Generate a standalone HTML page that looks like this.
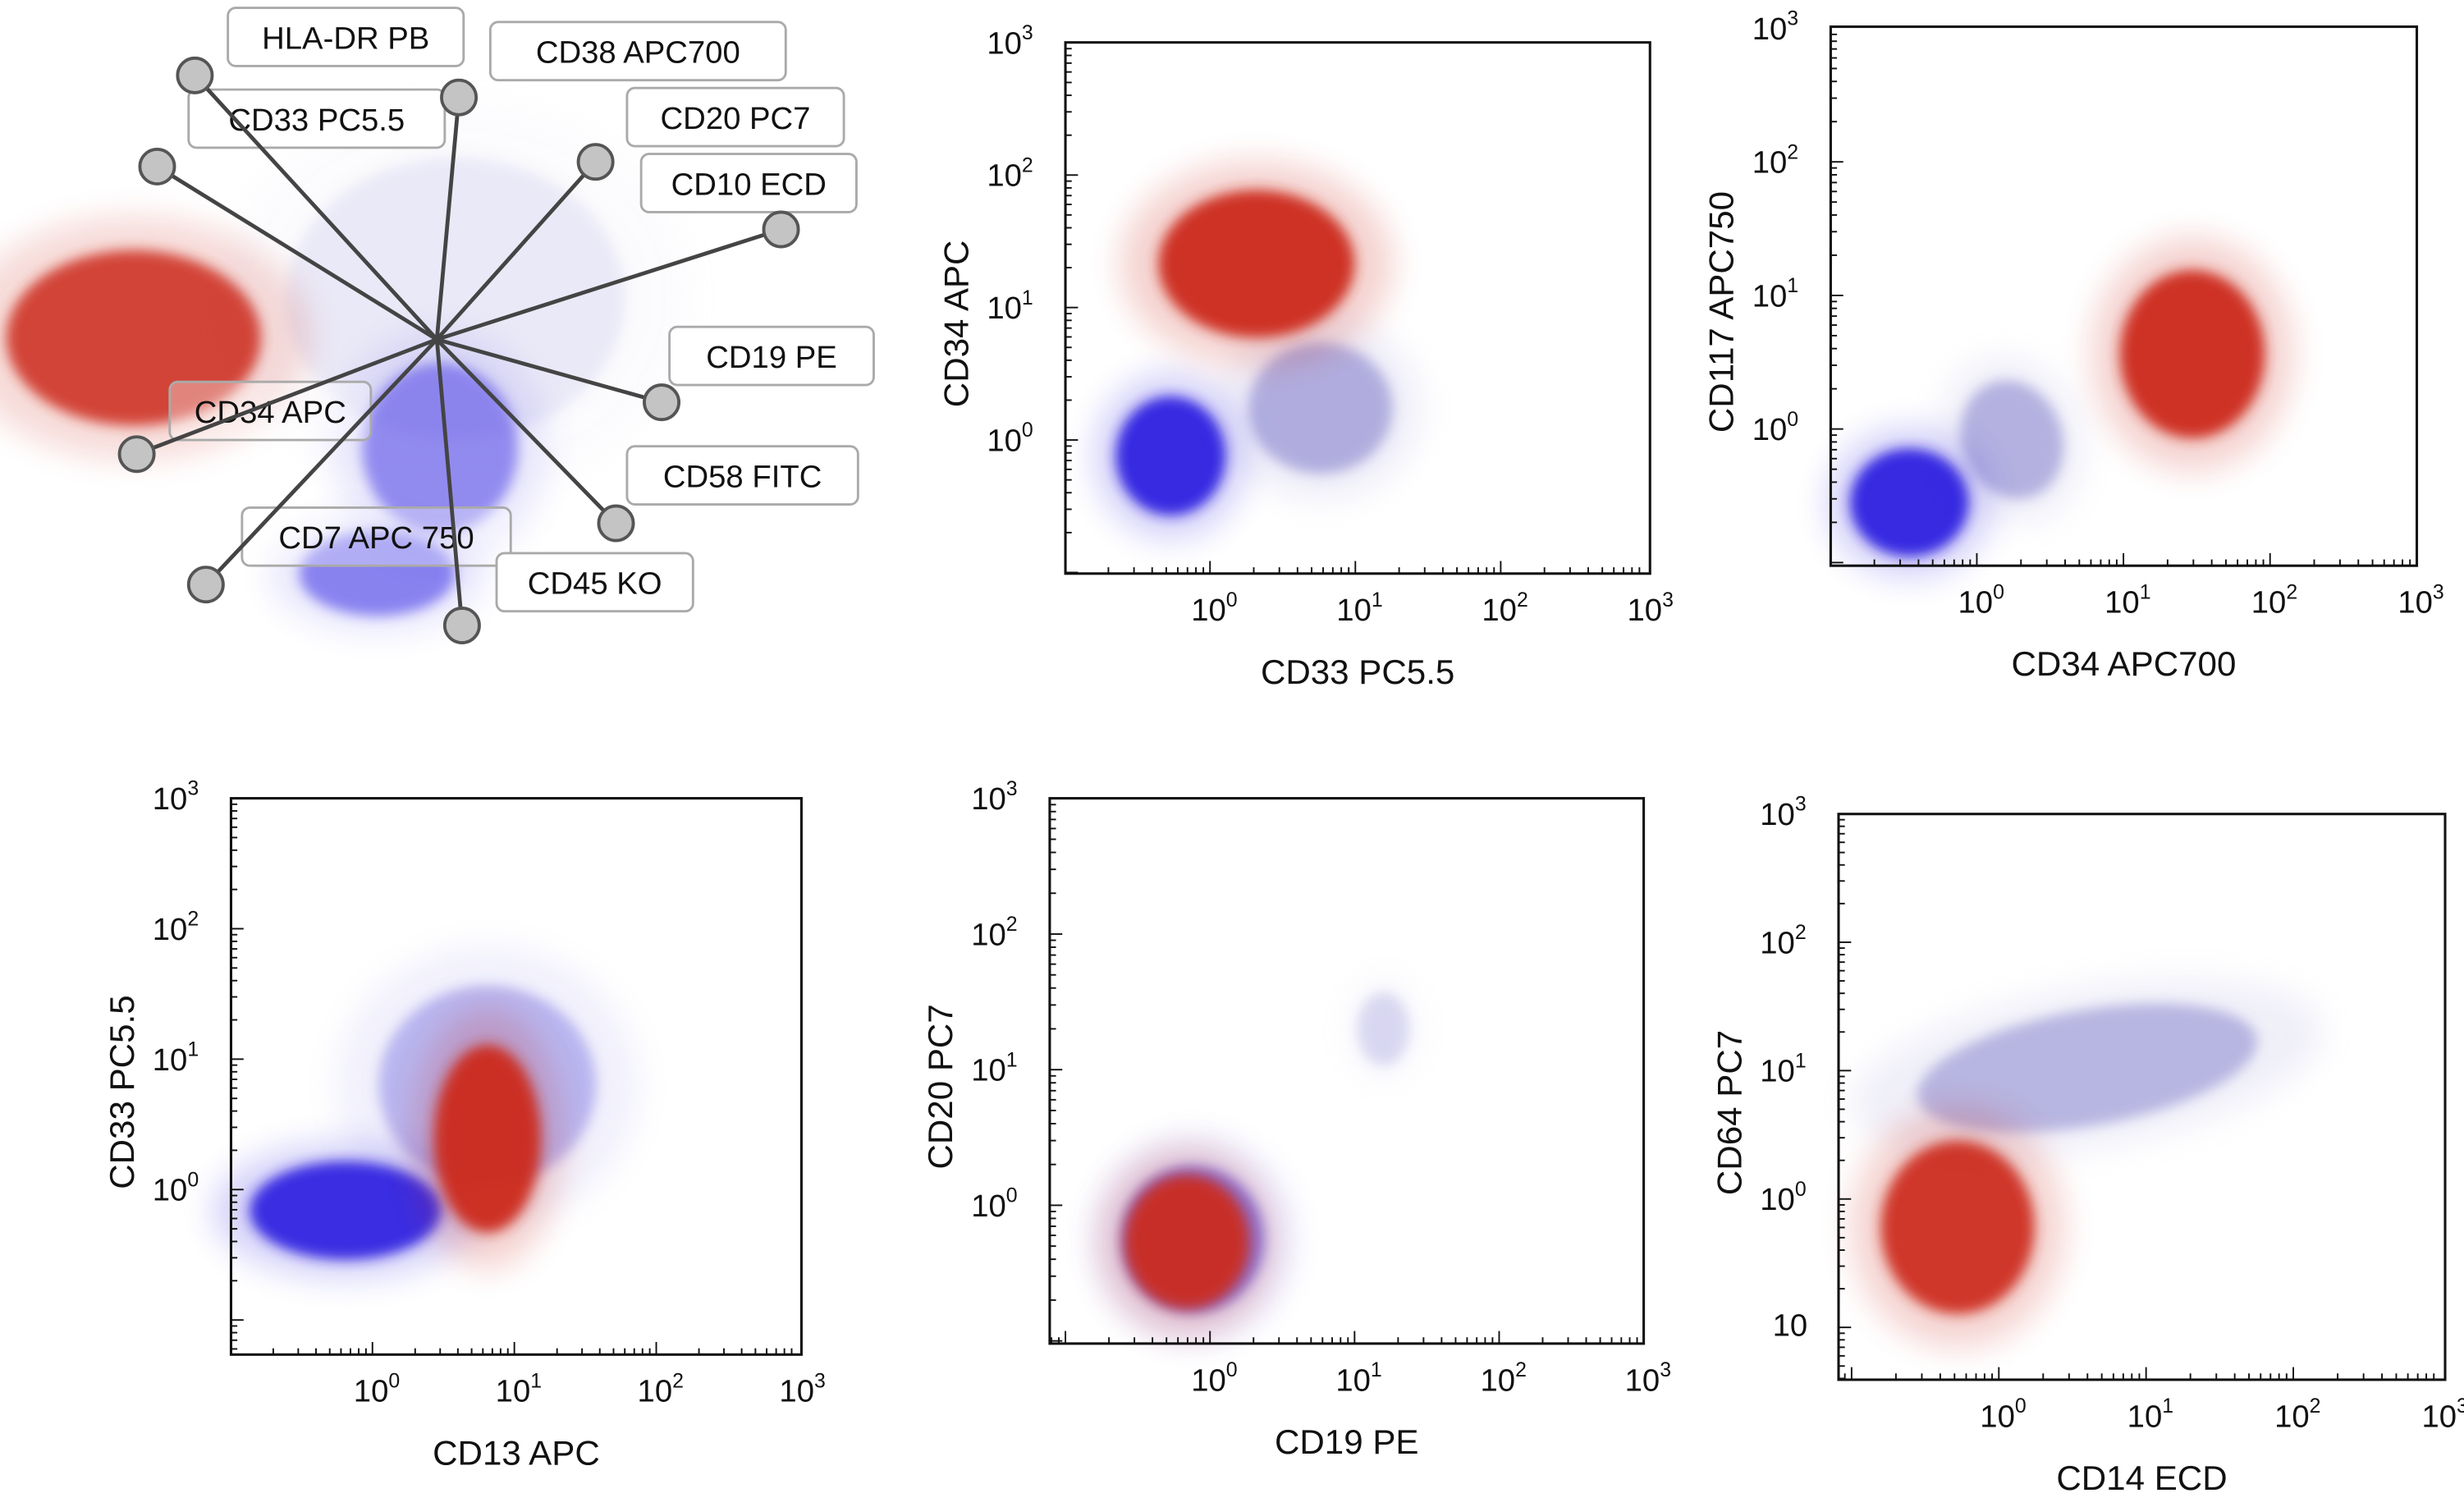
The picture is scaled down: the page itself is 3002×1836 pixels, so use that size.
<!DOCTYPE html>
<html><head><meta charset="utf-8"><style>
html,body{margin:0;padding:0;background:#fff}
svg{display:block}
text{font-family:"Liberation Sans",sans-serif;fill:#111}
</style></head><body>
<svg id="s" width="3002" height="1836" viewBox="0 0 1568 959">
<defs>
<filter id="b1" x="-50%" y="-50%" width="200%" height="200%"><feGaussianBlur stdDeviation="4"/></filter>
<filter id="b2" x="-50%" y="-50%" width="200%" height="200%"><feGaussianBlur stdDeviation="10"/></filter>
</defs>
<g id="radar"></g>
<g id="plots"></g>
</svg>
<script>
// ---- plot data ----
const plotNames=["cd34-vs-cd33","cd117-vs-cd34","cd33-vs-cd13","cd20-vs-cd19","cd64-vs-cd14"];
const xTitles=["CD33 PC5.5","CD34 APC700","CD13 APC","CD19 PE","CD14 ECD"];
const yTitles=["CD34 APC","CD117 APC750","CD33 PC5.5","CD20 PC7","CD64 PC7"];
const tickExps=[0,1,2,3];
// cluster centers (log10), half-extents (decades), rotation, colour, opacity
const clusterPlot=[0,0,0, 1,1,1, 2,2,2, 3,3,3, 4,4];
const clusterX=  [0.76,-0.27,0.32, 0.24,-0.46,1.47, 0.81,-0.19,0.81, -0.12,-0.16,1.2, 0.6,-0.28];
const clusterY=  [0.24,-0.12,1.33, -0.08,-0.55,0.56, 0.8,-0.16,0.39, -0.25,-0.27,1.3, 1.02,-0.22];
const clusterSX= [0.55,0.42,0.75, 0.38,0.45,0.55, 0.85,0.75,0.42, 0.55,0.48,0.2, 1.3,0.58];
const clusterSY= [0.55,0.5,0.62, 0.5,0.45,0.7, 0.85,0.42,0.8, 0.6,0.55,0.3, 0.5,0.75];
const clusterR=  [0,0,0, -20,0,0, 0,0,0, 0,0,0, -10,0];
const clusterC=  ["#aaa7dc","#2a1fe0","#cc2a1e", "#aaa7dc","#2a1fe0","#cc2a1e", "#8c86e6","#2a1fe0","#cc2a1e", "#5a50e6","#cc2a1e","#aaa7e0", "#aaa7dc","#cc2a1e"];
const clusterO=  [0.9,0.92,0.95, 0.85,0.92,0.95, 0.55,0.9,0.95, 0.7,0.92,0.4, 0.8,0.92];
// ---- layout (frame boxes and decade anchors) ----
const frames=[
 {l:678,r:1050,t:27,b:365,x0:770,xd:92.5,y0:280,yd:84.3},
 {l:1165,r:1538,t:17,b:360,x0:1258,xd:93.3,y0:273,yd:85},
 {l:147,r:510,t:508,b:862,x0:237,xd:90.3,y0:757,yd:83},
 {l:668,r:1046,t:508,b:855,x0:770,xd:92,y0:767,yd:86.3},
 {l:1170,r:1556,t:518,b:878,x0:1272,xd:93.7,y0:763,yd:81.7}
];
const NS="http://www.w3.org/2000/svg";
function mk(tag,attrs,parent){const e=document.createElementNS(NS,tag);for(const k in attrs)e.setAttribute(k,attrs[k]);parent.appendChild(e);return e;}
const plots=document.getElementById('plots');
frames.forEach((f,i)=>{
 const X=v=>f.x0+v*f.xd, Y=v=>f.y0-v*f.yd;
 const g=mk('g',{},plots);
 
 
 const cg=mk('g',{},g);
 clusterPlot.forEach((p,k)=>{ if(p!==i)return;
  const cx=X(clusterX[k]),cy=Y(clusterY[k]);
  const tr=`rotate(${clusterR[k]} ${cx} ${cy})`;
  const halo=mk('ellipse',{cx,cy,rx:clusterSX[k]*f.xd*1.25,ry:clusterSY[k]*f.yd*1.25,fill:clusterC[k],opacity:0.22*clusterO[k],filter:'url(#b2)',transform:tr},cg);
  
  
  const e=mk('ellipse',{cx,cy,rx:clusterSX[k]*f.xd*0.9,ry:clusterSY[k]*f.yd*0.9,fill:clusterC[k],opacity:clusterO[k],filter:'url(#b1)',transform:tr},cg);
  
  
 });
 const fr=mk('rect',{x:f.l,y:f.t,width:f.r-f.l,height:f.b-f.t,fill:'none',stroke:'#111','stroke-width':1.6},g);
 
 
 for(let d=-2;d<3;d++)for(let m=1;m<10;m++){const v=d+Math.log10(m);
  const x=X(v); if(x>=f.l&&x<=f.r) mk('line',{x1:x,x2:x,y1:f.b,y2:f.b-(m==1?8:4),stroke:'#111','stroke-width':1},g);
  const y=Y(v); if(y>=f.t&&y<=f.b) mk('line',{x1:f.l,x2:f.l+(m==1?8:4),y1:y,y2:y,stroke:'#111','stroke-width':1},g);}
 tickExps.forEach(p=>{
  const tx=mk('text',{x:X(p)-12,y:f.b+30,'font-size':20},g);tx.innerHTML='10<tspan dy="-9" font-size="13">'+p+'</tspan>';
  
  
  const ty=mk('text',{x:f.l-50,y:Y(p)+7,'font-size':20},g);ty.innerHTML='10<tspan dy="-9" font-size="13">'+p+'</tspan>';
  
  
 });
 const xt=mk('text',{x:(f.l+f.r)/2,y:f.b+70,'font-size':22,'text-anchor':'middle'},g);xt.textContent=xTitles[i];
 
 
 const yt=mk('text',{x:0,y:0,'font-size':22,'text-anchor':'middle',transform:`translate(${f.l-62},${(f.t+f.b)/2+10}) rotate(-90)`},g);yt.textContent=yTitles[i];
 
 
});
{const f=frames[4];const t=mk('text',{x:f.l-42,y:850,'font-size':20},plots);t.textContent='10';
 
 }

// ---- radar plot ----
const radar=document.getElementById('radar');
const radarCx=[290,85,280,240];
const radarCy=[190,215,285,365];
const radarRx=[120,90,55,55];
const radarRy=[100,62,60,30];
const radarC=["#c4c2ea","#cc2a1e","#5a50e8","#4a40e8"];
const radarO=[0.3,0.85,0.6,0.6];
radarCx.forEach((cx,k)=>{
 const h=mk('ellipse',{cx,cy:radarCy[k],rx:radarRx[k]*1.25,ry:radarRy[k]*1.25,fill:radarC[k],opacity:0.2*radarO[k],filter:'url(#b2)'},radar);
 
 
 const e=mk('ellipse',{cx,cy:radarCy[k],rx:radarRx[k]*0.9,ry:radarRy[k]*0.9,fill:radarC[k],opacity:radarO[k],filter:'url(#b1)'},radar);
 
 
});
const labels=["HLA-DR PB","CD38 APC700","CD33 PC5.5","CD20 PC7","CD10 ECD","CD19 PE","CD34 APC","CD58 FITC","CD7 APC 750","CD45 KO"];
const lbX=[145,312,120,399,408,426,108,399,154,316];
const lbY=[5,14,57,56,98,208,243,284,323,352];
const lbW=[150,188,163,138,137,130,128,147,171,125];
labels.forEach((s,k)=>{
 const g=mk('g',{},radar);
 
 
 mk('rect',{x:lbX[k],y:lbY[k],width:lbW[k],height:37,rx:5,fill:'#fff','fill-opacity':(k==6||k==8)?0.35:1,stroke:'#aaa','stroke-width':1.5},g);
 const t=mk('text',{x:lbX[k]+lbW[k]/2,y:lbY[k]+26,'font-size':20,'text-anchor':'middle'},g);t.textContent=s;
});
const spokeX=[124,292,379,497,421,392,294,131,87,100];
const spokeY=[48,62,103,146,256,333,398,372,289,106];
spokeX.forEach((x,k)=>{
 const l=mk('line',{x1:278,y1:216,x2:x,y2:spokeY[k],stroke:'#444','stroke-width':2.5},radar);
 
 
 const c=mk('circle',{cx:x,cy:spokeY[k],r:11,fill:'#c4c4c4',stroke:'#555','stroke-width':2},radar);
 
 
});
</script>
</body></html>
